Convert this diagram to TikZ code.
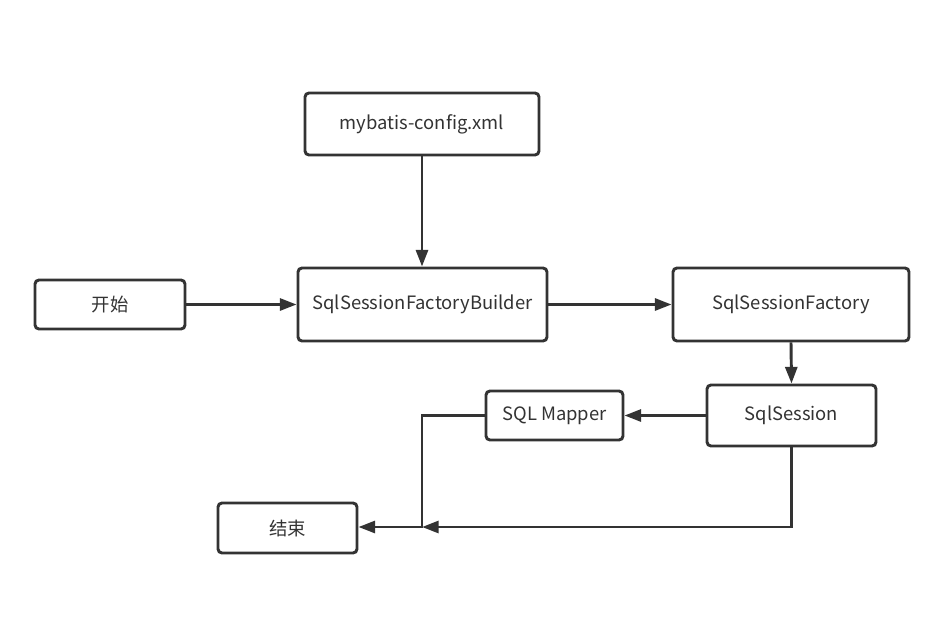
\documentclass[tikz,border=0pt]{standalone}
\usepackage{fontspec}
\setmainfont{Noto Sans CJK SC}
\usetikzlibrary{arrows.meta}
\definecolor{ink}{HTML}{333333}
\newcommand{\lbl}[1]{\raisebox{-2pt}{#1}}
\begin{document}
\begin{tikzpicture}[x=0.75pt,y=-0.75pt,
  box/.style={draw=ink,line width=2.2pt,rounded corners=3pt,fill=white,text=ink,
    font=\fontsize{13.8pt}{16pt}\selectfont,inner sep=0pt,anchor=center},
  conn/.style={draw=ink,line width=2.2pt,-{Triangle[length=12.5pt,width=9pt]}}]
\useasboundingbox (0,0) rectangle (928,621);
\node[box,minimum width=234*0.75pt,minimum height=62*0.75pt] (cfg) at (422,124) {\lbl{mybatis-config.xml}};
\node[box,minimum width=150*0.75pt,minimum height=49*0.75pt] (start) at (110,304.5) {\lbl{开始}};
\node[box,minimum width=249*0.75pt,minimum height=73*0.75pt] (bld) at (422.5,304.5) {\lbl{SqlSessionFactoryBuilder}};
\node[box,minimum width=236*0.75pt,minimum height=73*0.75pt] (fac) at (791,304.5) {\lbl{SqlSessionFactory}};
\node[box,minimum width=169*0.75pt,minimum height=61*0.75pt] (ses) at (791.5,415.5) {\lbl{SqlSession}};
\node[box,minimum width=137*0.75pt,minimum height=49*0.75pt] (map) at (554.5,415.5) {\lbl{SQL Mapper}};
\node[box,minimum width=139*0.75pt,minimum height=50*0.75pt] (end) at (287.5,528) {\lbl{结束}};
\coordinate (j) at (422,527);
\draw[conn] (cfg.south -| 422,0) -- (bld.north -| 422,0);
\draw[conn] (start.east) -- (bld.west);
\draw[conn] (bld.east) -- (fac.west);
\draw[conn] (fac.south) -- (ses.north);
\draw[conn] (ses.west) -- (map.east);
\draw[conn] (map.west) -- (map.west -| j) -- (j) -- (end.east |- j);
\draw[conn] (ses.south) -- (ses.south |- j) -- (j);
\end{tikzpicture}
\end{document}
